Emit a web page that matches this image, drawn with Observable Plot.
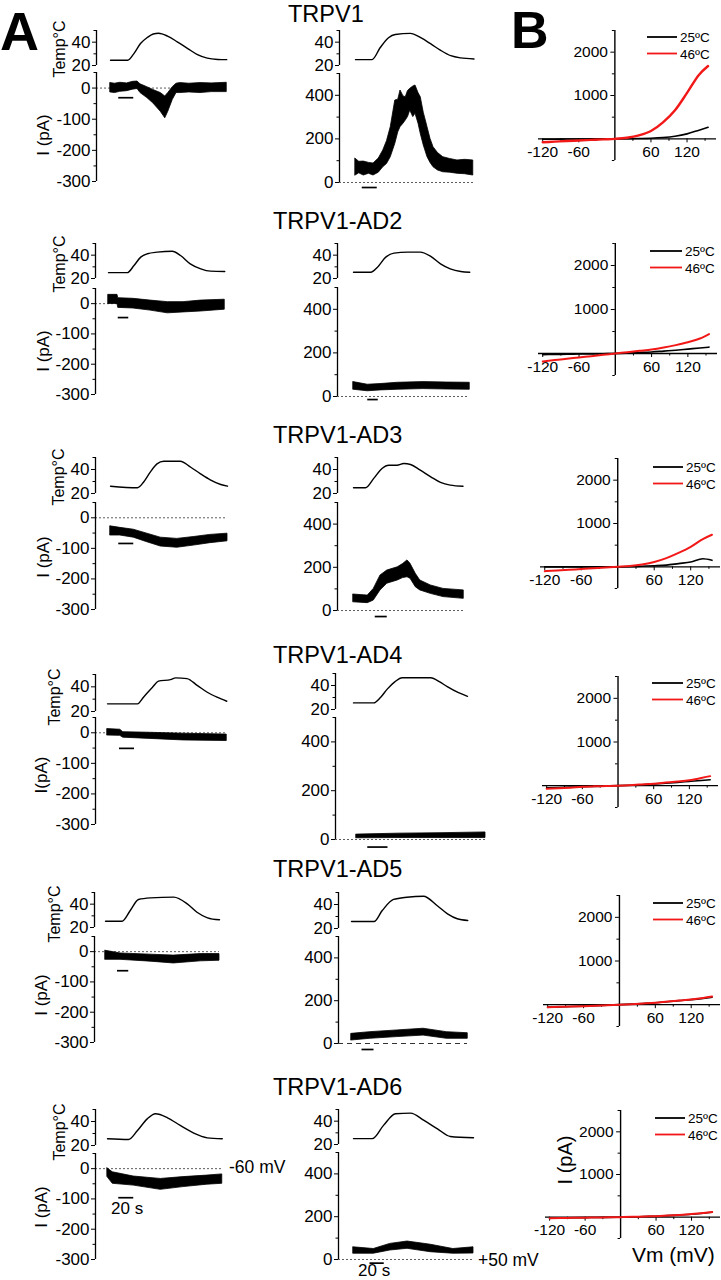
<!DOCTYPE html>
<html><head><meta charset="utf-8">
<script src="https://cdn.jsdelivr.net/npm/d3@7"></script>
<script src="https://cdn.jsdelivr.net/npm/@observablehq/plot@0.6"></script>
<style>
html,body{margin:0;padding:0;background:#fff;}
#root{position:relative;width:721px;height:1280px;overflow:hidden;background:#fff;}
</style></head><body><div id="root"></div>
<script>
const FONT = '"Liberation Sans", Arial, Helvetica, sans-serif';

// ---------- DATA ----------
const rowTitles = ["TRPV1", "TRPV1-AD2", "TRPV1-AD3", "TRPV1-AD4", "TRPV1-AD5", "TRPV1-AD6"];
const currentLabels = ["I (pA)", "I (pA)", "I (pA)", "I(pA)", "I (pA)", "I (pA)"];
const legendLabels = ["25ºC", "46ºC"];

const tempTicks = [20, 40], tempMinor = [30, 50];
const negTicks = [0, -100, -200, -300], negMinor = [50, -50, -150, -250];
const posTicks = [0, 200, 400], posMinor = [100, 300, 500];
const ivXTicks = [-120, -60, 60, 120], ivXMinor = [-90, -30, 30, 90, 150];
const ivYTicks = [1000, 2000], ivYMinor = [-500, 500, 1500, 2500];

// time (s from trace start), temperature (ºC)
const tempNeg1 = [[0,24.5],[23,24.5],[31,30],[40,38.8],[49,44],[57,47],[64,47.6],[76,45.2],[89,40.3],[103,34.5],[116,29.3],[129,26.3],[143,25.2],[155,25]];
const tempPos1 = [[0,25],[22,25],[33,35.4],[44,43.8],[53,46.6],[73,47.5],[87,43.8],[100,38.7],[113,33.2],[127,28.4],[140,26.5],[158,25.6]];
const tempNeg2 = [[0,25],[25,25],[34,31.1],[43,38.3],[52,41.2],[65,42.6],[85,43.4],[96,39.7],[109,32.6],[123,28.3],[136,26.3],[155,26]];
const tempPos2 = [[0,25.4],[23,25.4],[32,29.7],[43,38.3],[54,41.7],[72,42.6],[89,42.6],[103,38.9],[116,32.6],[129,28.3],[143,26],[155,25.4]];
const tempNeg3 = [[0,26.1],[36,24.8],[44,29.4],[53,37.8],[62,44.7],[71,46.9],[93,46.9],[107,41.9],[120,36.4],[133,31.4],[147,27.5],[156,26.1]];
const tempPos3 = [[0,24.8],[16,24.8],[27,32.6],[38,40.9],[47,43.6],[58,43.6],[67,45],[76,44.2],[89,39.4],[103,33.9],[116,29.2],[129,27],[146,26.1]];
const tempNeg4 = [[0,26.2],[40,26.2],[48,31.6],[60,39.7],[68,44.6],[84,45.9],[91,47.3],[106,46.7],[120,41],[133,35.6],[146,31.6],[159,28.3]];
const tempPos4 = [[0,25.5],[27,25.5],[36,30],[45,37],[55,43],[65,46.5],[103,46.5],[115,43],[125,39],[140,34],[152,31]];
const tempNeg5 = [[0,25.4],[22,25.4],[33,34.6],[44,44],[60,45.4],[91,46],[109,40.3],[122,33.1],[136,28.3],[152,26.6]];
const tempPos5 = [[0,25.8],[30,25.8],[41,35],[56,44.2],[74,46.1],[96,46.9],[114,39.2],[128,32.2],[141,28.1],[155,26.7]];
const tempNeg6 = [[0,25.6],[28,25],[40,32.5],[53,42.2],[64,46.4],[80,43.1],[97,36.7],[115,30.3],[133,26.4],[153,25.6]];
const tempPos6 = [[0,25],[25,25],[40,36.4],[56,46.4],[76,46.9],[94,40.6],[112,33.4],[129,26.9],[160,25.8]];

// current envelopes: time (s), lower (pA), upper (pA)
const curNeg1 = [[0,-14,16],[6,-16,14],[13,-12,17],[22,-10,15],[30,-5,20],[36,-3,21],[40,-16,12],[49,-32,3],[57,-49,-6],[67,-76,-16],[73,-97,-27],[77,-76,-16],[83,-38,3],[88,-16,14],[93,-16,16],[105,-14,14],[120,-16,16],[135,-13,15],[155,-13,17]];
const curPos1 = [[0,32,109],[5,42,95],[11,32,96],[18,40,90],[24,32,87],[31,45,110],[37,70,147],[42,85,190],[47,116,254],[53,177,376],[57,230,380],[60,254,422],[64,270,395],[67,284,391],[70,300,420],[73,330,430],[77,300,440],[80,315,445],[84,270,410],[87,223,391],[91,170,320],[96,116,254],[100,90,200],[104,70,162],[110,55,135],[117,47,116],[126,45,108],[136,40,101],[146,38,104],[157,32,101]];
const curNeg2 = [[0,-1,29],[12,-1,29],[13,-14,18],[33,-16,16],[56,-23,10],[79,-32,5],[100,-29,5],[123,-26,10],[155,-20,13]];
const curPos2 = [[0,31,66],[19,24,54],[36,28,57],[59,31,63],[93,34,66],[125,32,64],[155,31,63]];
const curNeg3 = [[0,-58,-28],[13,-58,-33],[31,-65,-39],[49,-80,-52],[67,-94,-65],[89,-98,-69],[111,-91,-63],[133,-83,-56],[156,-77,-52]];
const curPos3 = [[0,38,74],[19,34,69],[27,46,100],[36,93,162],[45,124,185],[59,139,200],[66,150,215],[72,154,232],[76,147,216],[83,108,170],[89,93,139],[103,77,116],[120,62,100],[147,54,93]];
const curNeg4 = [[0,-9,12],[17,-10,10],[21,-16,2],[57,-20,0],[101,-25,-3],[159,-27,-6]];
const curPos4 = [[4,5,20],[60,6,24],[120,6,26],[176,6,29]];
const curNeg5 = [[0,-27,3],[20,-27,-6],[60,-33,-10],[91,-39,-13],[127,-32,-8],[152,-30,-8]];
const curPos5 = [[0,14,45],[25,22,53],[61,30,61],[96,37,69],[127,22,53],[155,22,48]];
const curNeg6 = [[0,-28,1],[7,-50,-12],[35,-56,-26],[71,-70,-34],[101,-61,-28],[133,-53,-23],[153,-50,-19]];
const curPos6 = [[0,27,57],[27,27,49],[49,42,73],[72,50,84],[103,34,69],[133,27,49],[160,28,57]];

// 20 s calibration bars: start (s), end (s), level (pA)
const barNeg = [[11,31,-31],[13,27,-46],[11,31,-84],[16,36,-51],[16,31,-63],[15,35,-96]];
const barPos = [[9,29,-23],[19,33,-14],[29,45,-28],[19,46,-31],[14,30,-28],[22,41,-17]];

// I-V curves
const ivVm = [-120, -100, -80, -60, -40, -20, 0, 20, 40, 60, 80, 100, 120, 140, 155];
const iv25_1 = [-10,-8,-5,-3,-2,-1,0,3,8,15,30,60,115,200,265];
const iv46_1 = [-80,-65,-50,-38,-25,-12,0,25,80,180,380,660,1060,1480,1680];
const iv25_2 = [-25,-21,-17,-13,-9,-4,0,10,22,35,55,75,100,125,145];
const iv46_2 = [-180,-150,-120,-90,-60,-30,0,30,60,90,135,190,255,340,440];
const iv25_3 = [0,0,0,0,0,0,0,5,15,25,40,75,110,185,150];
const iv46_3 = [-100,-85,-70,-50,-35,-18,0,20,55,110,200,320,460,640,740];
const iv25_4 = [-50,-42,-33,-25,-16,-8,0,10,22,38,55,75,98,120,135];
const iv46_4 = [-72,-60,-45,-25,-15,-8,0,12,28,45,70,95,125,175,218];
const iv25_5 = [-57,-50,-42,-34,-23,-11,0,12,27,44,68,92,115,145,172];
const iv46_5 = [-57,-50,-42,-34,-23,-11,0,12,27,44,70,95,120,155,187];
const iv25_6 = [-23,-19,-15,-11,-8,-4,0,7,15,23,35,50,68,92,115];
const iv46_6 = [-25,-20,-16,-12,-8,-4,0,7,15,24,37,52,72,98,122];

// ---------- LAYOUT (page pixels) ----------
const PX_PER_S = 0.75;
const layNeg = [
 {ax:96, start:110, end:226, tTop:30, tBot:65, cTop:72, cBot:181},
 {ax:95, start:108, end:224, tTop:243, tBot:278, cTop:288, cBot:394},
 {ax:95, start:110, end:227, tTop:457, tBot:493, cTop:502, cBot:609},
 {ax:95, start:107, end:226, tTop:674, tBot:711, cTop:717, cBot:824},
 {ax:94, start:105, end:219, tTop:892, tBot:927, cTop:936, cBot:1042},
 {ax:95, start:107, end:222, tTop:1109, tBot:1145, cTop:1153, cBot:1259}];
const layPos = [
 {ax:339, start:355, end:474, tTop:30, tBot:65, cTop:73, cBot:182},
 {ax:337, start:353, end:469, tTop:243, tBot:278, cTop:287, cBot:396},
 {ax:337, start:353, end:463, tTop:457, tBot:493, cTop:502, cBot:610},
 {ax:335, start:353, end:485, tTop:673, tBot:709, cTop:717, cBot:839},
 {ax:338, start:351, end:467, tTop:892, tBot:928, cTop:936, cBot:1043},
 {ax:338, start:353, end:473, tTop:1109, tBot:1144, cTop:1152, cBot:1259}];
const layIV = [
 {x0:538, x1:716, y0:30, y1:160, lx1:647, lx2:677, ly:37},
 {x0:538, x1:717, y0:243, y1:375, lx1:650, lx2:682, ly:251},
 {x0:540, x1:720, y0:458, y1:588, lx1:653, lx2:683, ly:467},
 {x0:542, x1:718, y0:676, y1:807, lx1:652, lx2:683, ly:683},
 {x0:543, x1:720, y0:895, y1:1026, lx1:653, lx2:683, ly:903},
 {x0:545, x1:720, y0:1110, y1:1238, lx1:655, lx2:685, ly:1118}];
const titlePos = [[288,21.5],[273,229],[273,443],[273,663],[273,877],[273,1095]];
const tempLabelPos = [[65,49],[65,264],[64,477],[60,697],[60,914],[65,1132]];
const curLabelPos = [[49,135],[49,351],[49,557],[47,775],[47,995],[47,1207]];

const tempNeg = [tempNeg1,tempNeg2,tempNeg3,tempNeg4,tempNeg5,tempNeg6];
const tempPos = [tempPos1,tempPos2,tempPos3,tempPos4,tempPos5,tempPos6];
const curNeg = [curNeg1,curNeg2,curNeg3,curNeg4,curNeg5,curNeg6];
const curPos = [curPos1,curPos2,curPos3,curPos4,curPos5,curPos6];
const iv25 = [iv25_1,iv25_2,iv25_3,iv25_4,iv25_5,iv25_6];
const iv46 = [iv46_1,iv46_2,iv46_3,iv46_4,iv46_5,iv46_6];

const RED = "#f21818";
const root = document.getElementById("root");
const M = {l: 64, r: 16, t: 12, b: 34};
const fmt = d => String(d);

function makePlot(x0, x1, y0, y1, xOpts, yOpts, marks, fs) {
  const p = Plot.plot({
    width: x1 - x0 + M.l + M.r, height: y1 - y0 + M.t + M.b,
    marginLeft: M.l, marginRight: M.r, marginTop: M.t, marginBottom: M.b,
    x: xOpts, y: yOpts,
    style: {background: "none", fontFamily: FONT, fontSize: fs + "px", color: "#000", overflow: "visible"},
    marks
  });
  p.style.position = "absolute";
  p.style.left = (x0 - M.l) + "px";
  p.style.top = (y0 - M.t) + "px";
  p.style.maxWidth = "none";
  root.appendChild(p);
}

function tracePanels(lay, temp, cur, bar, yDom, majors, minors, dash, dashW) {
  const xDom = [-(lay.start - lay.ax) / PX_PER_S, (lay.end - lay.start) / PX_PER_S];
  makePlot(lay.ax, lay.end, lay.tTop, lay.tBot, {domain: xDom, axis: null}, {domain: [20, 50]}, [
    Plot.ruleX([xDom[0]], {strokeWidth: 1.3}),
    Plot.axisY(tempTicks, {tickSize: 4, tickPadding: 2, label: null, tickFormat: fmt}),
    Plot.axisY(tempMinor, {tickSize: 2.5, fill: "none", label: null}),
    Plot.line(temp, {x: d => d[0], y: d => d[1], strokeWidth: 1.4, curve: "monotone-x"})
  ], 17);
  makePlot(lay.ax, lay.end, lay.cTop, lay.cBot, {domain: xDom, axis: null}, {domain: yDom}, [
    Plot.ruleY([0], {strokeDasharray: dash, strokeWidth: dashW, stroke: "#333"}),
    Plot.ruleX([xDom[0]], {strokeWidth: 1.3}),
    Plot.axisY(majors, {tickSize: 4, tickPadding: 2, label: null, tickFormat: fmt}),
    Plot.axisY(minors, {tickSize: 2.5, fill: "none", label: null}),
    Plot.areaY(cur, {x: d => d[0], y1: d => d[1], y2: d => d[2], fill: "#000", stroke: "#000", strokeWidth: 0.8, curve: "linear"}),
    Plot.ruleY([bar], {x1: d => d[0], x2: d => d[1], y: d => d[2], strokeWidth: 1.7})
  ], 17);
}

function ivPanel(lay, b25, r46, redW) {
  const xDom = [-127, 169], yDom = [-500, 2500];
  const w = lay.x1 - lay.x0, h = lay.y1 - lay.y0;
  const dx = (0 - xDom[0]) / (xDom[1] - xDom[0]) * w;
  const dy = -(0 - yDom[0]) / (yDom[1] - yDom[0]) * h;
  const black = ivVm.map((v, i) => [v, b25[i]]);
  const red = ivVm.map((v, i) => [v, r46[i]]);
  makePlot(lay.x0, lay.x1, lay.y0, lay.y1, {domain: xDom}, {domain: yDom}, [
    Plot.ruleX([0], {strokeWidth: 1.4}),
    Plot.ruleY([0], {strokeWidth: 1.4}),
    Plot.axisY(ivYTicks, {anchor: "left", dx, tickSize: 4, tickPadding: 3, label: null, tickFormat: fmt}),
    Plot.axisY(ivYMinor, {anchor: "left", dx, tickSize: 2.5, fill: "none", label: null}),
    Plot.axisX(ivXTicks, {anchor: "bottom", dy, tickSize: 4, tickPadding: 3, label: null, tickFormat: fmt}),
    Plot.axisX(ivXMinor, {anchor: "bottom", dy, tickSize: 2.5, fill: "none", label: null}),
    Plot.line(black, {x: d => d[0], y: d => d[1], stroke: "#000", strokeWidth: 1.6, curve: "monotone-x"}),
    Plot.line(red, {x: d => d[0], y: d => d[1], stroke: RED, strokeWidth: redW, curve: "monotone-x"})
  ], 15.5);
}

for (let i = 0; i < 6; i++) {
  tracePanels(layNeg[i], tempNeg[i], curNeg[i], barNeg[i], [-300, 50], negTicks, negMinor, "2,2", 0.8);
  tracePanels(layPos[i], tempPos[i], curPos[i], barPos[i], [0, 500], posTicks, posMinor, i === 4 ? "5,4" : "2,2", i === 4 ? 1.2 : 0.8);
  ivPanel(layIV[i], iv25[i], iv46[i], i === 0 ? 2.4 : 2);
}

// ---------- TEXT OVERLAY ----------
const ov = d3.create("svg").attr("width", 721).attr("height", 1280)
  .style("position", "absolute").style("left", "0px").style("top", "0px")
  .style("font-family", FONT).style("overflow", "visible");
ov.append("text").attr("x", 0).attr("y", 49.5).attr("font-size", 54).attr("font-weight", "bold").text("A");
ov.append("text").attr("x", 511).attr("y", 47.5).attr("font-size", 52).attr("font-weight", "bold").text("B");
rowTitles.forEach((t, i) => {
  ov.append("text").attr("x", titlePos[i][0]).attr("y", titlePos[i][1]).attr("font-size", 23.5).text(t);
  ov.append("text").attr("transform", `translate(${tempLabelPos[i][0]},${tempLabelPos[i][1]}) rotate(-90)`)
    .attr("text-anchor", "middle").attr("font-size", 16).text("Temp°C");
  ov.append("text").attr("transform", `translate(${curLabelPos[i][0]},${curLabelPos[i][1]}) rotate(-90)`)
    .attr("text-anchor", "middle").attr("font-size", 17).text(currentLabels[i]);
  const L = layIV[i];
  [["#000", 0], [RED, 16.5]].forEach(([c, off], j) => {
    ov.append("line").attr("x1", L.lx1).attr("x2", L.lx2).attr("y1", L.ly + off).attr("y2", L.ly + off)
      .attr("stroke", c).attr("stroke-width", 1.8);
    ov.append("text").attr("x", L.lx2 + 3).attr("y", L.ly + off + 5).attr("font-size", 13.5).text(legendLabels[j]);
  });
});
ov.append("text").attr("x", 229).attr("y", 1173).attr("font-size", 17.5).text("-60 mV");
ov.append("text").attr("x", 478).attr("y", 1266).attr("font-size", 17.5).text("+50 mV");
ov.append("text").attr("x", 111).attr("y", 1214).attr("font-size", 17).text("20 s");
ov.append("text").attr("x", 358).attr("y", 1276).attr("font-size", 17).text("20 s");
ov.append("text").attr("x", 632).attr("y", 1262).attr("font-size", 21).text("Vm (mV)");
ov.append("text").attr("transform", "translate(572,1160) rotate(-90)").attr("text-anchor", "middle")
  .attr("font-size", 20).text("I (pA)");
root.appendChild(ov.node());
</script></body></html>
